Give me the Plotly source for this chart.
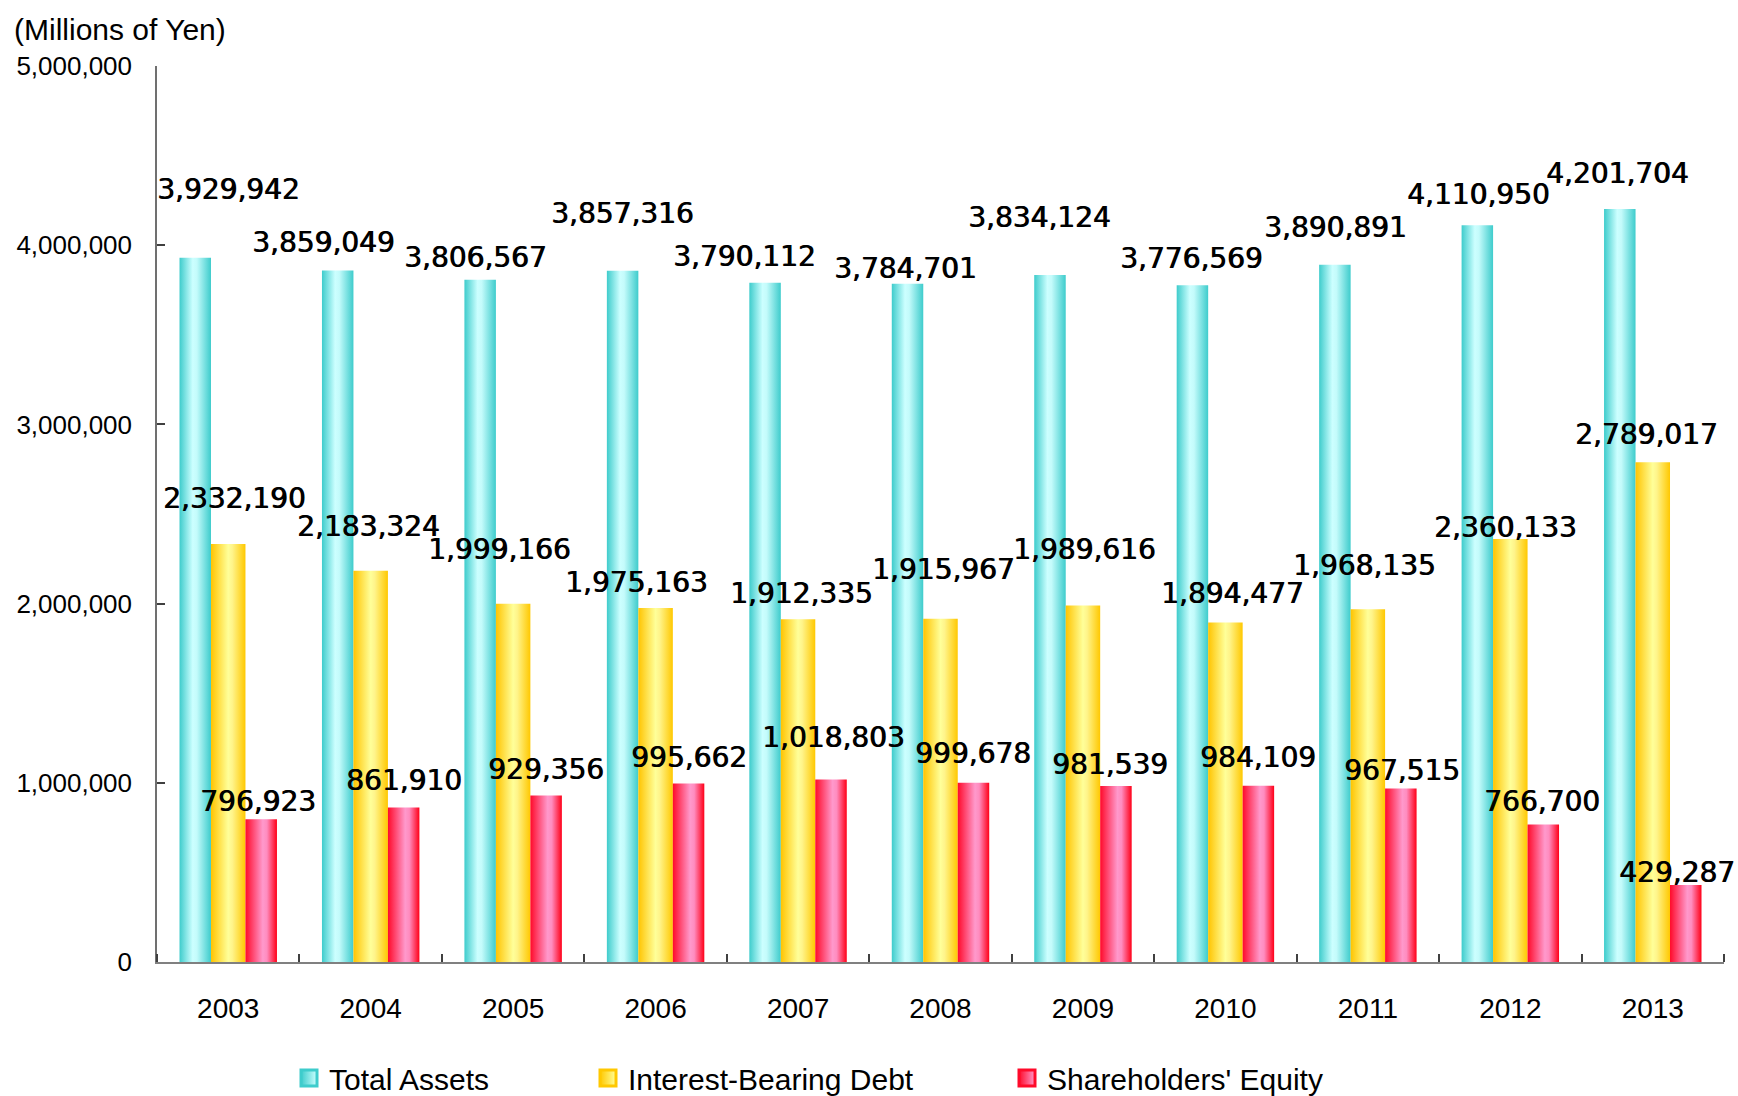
import plotly.graph_objects as go

# ---- data ----
years = ["2003", "2004", "2005", "2006", "2007", "2008", "2009", "2010", "2011", "2012", "2013"]
total_assets = [3929942, 3859049, 3806567, 3857316, 3790112, 3784701, 3834124, 3776569, 3890891, 4110950, 4201704]
interest_bearing_debt = [2332190, 2183324, 1999166, 1975163, 1912335, 1915967, 1989616, 1894477, 1968135, 2360133, 2789017]
shareholders_equity = [796923, 861910, 929356, 995662, 1018803, 999678, 981539, 984109, 967515, 766700, 429287]
y_ticks = [0, 1000000, 2000000, 3000000, 4000000, 5000000]

# value labels were nudged by hand in the original, pixel offsets (dx, dy above bar top)
assets_nudge_x = [33, -14, -5, 0, -21, -2, -10, -1, 1, 1, -2]
assets_nudge_y = [68, 28, 22, 57, 26, 15, 57, 27, 37, 31, 36]
debt_nudge_x = [6, -2, -14, -19, 3, 3, 2, 7, -3, -5, -6]
debt_nudge_y = [46, 44, 54, 26, 26, 49, 56, 29, 44, 12, 28]
equity_nudge_x = [-3, 0, 0, 0, 2, 0, -6, 0, 1, -1, -9]
equity_nudge_y = [18, 27, 26, 26, 42, 29, 22, 28, 18, 23, 13]

series = [
    dict(name="Total Assets", values=total_assets, edges=(-0.342, -0.121),
         scale=[[0, "#3ecccc"], [0.42, "#ccffff"], [0.55, "#c4fbfb"], [1, "#3ecccc"]],
         swatch=("#3ecccc", "#ccffff"), legend="legend",
         nx=assets_nudge_x, ny=assets_nudge_y),
    dict(name="Interest-Bearing Debt", values=interest_bearing_debt, edges=(-0.121, 0.121),
         scale=[[0, "#ffc400"], [0.5, "#ffff99"], [0.62, "#fff48a"], [1, "#ffc800"]],
         swatch=("#ffc800", "#ffff99"), legend="legend2",
         nx=debt_nudge_x, ny=debt_nudge_y),
    dict(name="Shareholders' Equity", values=shareholders_equity, edges=(0.121, 0.342),
         scale=[[0, "#ff0a2a"], [0.55, "#ff99cc"], [0.68, "#ff8cbf"], [1, "#ff0018"]],
         swatch=("#ff0a2a", "#ff99cc"), legend="legend3",
         nx=equity_nudge_x, ny=equity_nudge_y),
]

fig = go.Figure()
annotations = []

for s in series:
    lo, hi = s["edges"]
    for i, v in enumerate(s["values"]):
        x0, x1 = i + lo, i + hi
        fig.add_trace(go.Scatter(
            x=[x0, x0, x1, x1, x0], y=[0, v, v, 0, 0],
            mode="none", fill="toself",
            fillgradient=dict(type="horizontal", colorscale=s["scale"], start=x0, stop=x1),
            showlegend=False, hoverinfo="skip",
        ))
        annotations.append(dict(
            x=i + (lo + hi) / 2, y=v, text=f"{v:,}", showarrow=False,
            xanchor="center", yanchor="middle",
            xshift=s["nx"][i], yshift=s["ny"][i],
            # a thin shadow thickens the strokes like the original's heavier digits
            font=dict(family="DejaVu Sans", size=28, color="black",
                      shadow="0.8px 0px 0px #000"),
        ))
    # legend-only swatch
    fig.add_trace(go.Scatter(
        x=[None], y=[None], mode="markers", name=s["name"], legend=s["legend"],
        marker=dict(symbol="square", size=16, color=s["swatch"][0],
                    gradient=dict(type="horizontal", color=s["swatch"][1]),
                    line=dict(width=3, color=s["swatch"][0])),
    ))

legend_font = dict(family="Liberation Sans", size=30, color="black")
legend_common = dict(orientation="h", xref="container", yref="container",
                     xanchor="left", yanchor="middle", y=1 - 1078 / 1096,
                     font=legend_font, itemsizing="trace", bgcolor="rgba(0,0,0,0)",
                     borderwidth=0)

fig.update_layout(
    width=1738, height=1096,
    margin=dict(l=157, r=14, t=66, b=134, autoexpand=False),
    paper_bgcolor="white", plot_bgcolor="white",
    title=dict(text="(Millions of Yen)", xref="container", yref="container",
               x=14 / 1738, y=1 - 29 / 1096, xanchor="left", yanchor="middle",
               font=dict(family="Liberation Sans", size=30, color="black")),
    xaxis=dict(range=[-0.5, 10.5], tickvals=list(range(len(years))), ticktext=years,
               ticks="", showgrid=False, zeroline=False,
               showline=True, linecolor="#808080", linewidth=2,
               tickfont=dict(family="Liberation Sans", size=28, color="black"),
               ticklabelstandoff=20,
               minor=dict(tickvals=[i - 0.5 for i in range(len(years) + 1)],
                          ticks="inside", ticklen=8, tickwidth=1.5, tickcolor="#404040",
                          showgrid=False)),
    yaxis=dict(range=[0, 5000000], tickvals=y_ticks, tickformat=",",
               ticks="inside", ticklen=8, tickwidth=1.5, tickcolor="#404040",
               showgrid=False, zeroline=False,
               showline=True, linecolor="#707070", linewidth=1.5,
               tickfont=dict(family="Liberation Sans", size=26, color="black"),
               ticklabelstandoff=18),
    legend=dict(legend_common, x=289 / 1738),
    legend2=dict(legend_common, x=588 / 1738),
    legend3=dict(legend_common, x=1007 / 1738),
    annotations=annotations,
    showlegend=True,
)

# the page's default body margin would push the chart 8px off the window corner
fig.write_html("out.html", config={"displayModeBar": False},
               post_script="document.body.style.margin='0';")
